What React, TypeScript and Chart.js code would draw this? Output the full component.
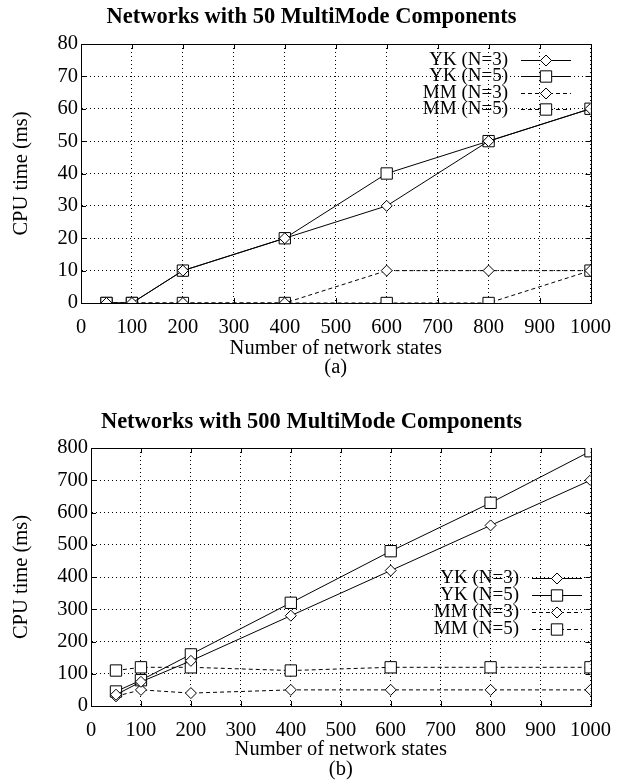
import React, { useEffect, useRef } from 'react';
import { Chart, registerables } from 'chart.js';

Chart.register(...registerables);

// ---------- data ----------
const networkStates = [50, 100, 200, 400, 600, 800, 1000];
const seriesLabels = ['YK (N=3)', 'YK (N=5)', 'MM (N=3)', 'MM (N=5)'];

// (a) 50 MultiMode components
const a_YK3 = [0, 0, 10, 20, 30, 50, 60];
const a_YK5 = [0, 0, 10, 20, 40, 50, 60];
const a_MM3 = [0, 0, 0, 0, 10, 10, 10];
const a_MM5 = [0, 0, 0, 0, 0, 0, 10];

// (b) 500 MultiMode components
const b_YK3 = [35, 75, 140, 280, 420, 560, 700];
const b_YK5 = [45, 80, 160, 320, 480, 630, 790];
const b_MM3 = [30, 50, 40, 50, 50, 50, 50];
const b_MM5 = [110, 120, 120, 110, 120, 120, 120];

const titleA = 'Networks with 50 MultiMode Components';
const titleB = 'Networks with 500 MultiMode Components';
const xTitle = 'Number of network states';
const yTitle = 'CPU time (ms)';

const FONT = "'Liberation Serif', 'Times New Roman', Times, serif";
const W = 623;

const markerStyles = ['rectRot', 'rect', 'rectRot', 'rect'];
const markerRadius = [5.5, 8, 5.5, 8];
const dashes = [[], [], [4, 3], [4, 3]];

function drawMarker(ctx: CanvasRenderingContext2D, style: string, x: number, y: number, r: number) {
  ctx.beginPath();
  if (style === 'rectRot') {
    ctx.moveTo(x, y - r);
    ctx.lineTo(x + r, y);
    ctx.lineTo(x, y + r);
    ctx.lineTo(x - r, y);
    ctx.closePath();
  } else {
    const s = r * Math.SQRT1_2;
    ctx.rect(x - s, y - s, 2 * s, 2 * s);
  }
  ctx.fillStyle = '#fff';
  ctx.fill();
  ctx.stroke();
}

const framePlugin = {
  id: 'gnuFrame',
  beforeDatasetsDraw(chart: any) {
    const { ctx, chartArea } = chart;
    const { left, right, top, bottom } = chartArea;
    ctx.save();
    ctx.strokeStyle = '#000';
    ctx.lineWidth = 1;
    ctx.setLineDash([]);
    ctx.strokeRect(Math.round(left) + 0.5, Math.round(top) + 0.5, Math.round(right - left), Math.round(bottom - top));
    const xs = chart.scales.x;
    const ys = chart.scales.y;
    const tl = 5;
    ctx.beginPath();
    xs.ticks.forEach((t: any) => {
      const px = Math.round(xs.getPixelForValue(t.value)) + 0.5;
      ctx.moveTo(px, bottom);
      ctx.lineTo(px, bottom - tl);
      ctx.moveTo(px, top);
      ctx.lineTo(px, top + tl);
    });
    ys.ticks.forEach((t: any) => {
      const py = Math.round(ys.getPixelForValue(t.value)) + 0.5;
      ctx.moveTo(left, py);
      ctx.lineTo(left + tl, py);
      ctx.moveTo(right, py);
      ctx.lineTo(right - tl, py);
    });
    ctx.stroke();
    ctx.restore();
  },
};

const legendPlugin = {
  id: 'gnuLegend',
  afterDraw(chart: any, _args: any, opts: any) {
    const { ctx } = chart;
    ctx.save();
    ctx.font = `${opts.fontSize}px ${FONT}`;
    ctx.textAlign = 'right';
    ctx.textBaseline = 'middle';
    chart.data.datasets.forEach((ds: any, i: number) => {
      const y = opts.y0 + i * opts.dy;
      ctx.fillStyle = '#000';
      ctx.fillText(ds.label, opts.textRight, y);
      ctx.strokeStyle = '#000';
      ctx.lineWidth = 1;
      ctx.setLineDash(ds.borderDash || []);
      ctx.beginPath();
      ctx.moveTo(opts.lineX1, Math.round(y) + 0.5);
      ctx.lineTo(opts.lineX2, Math.round(y) + 0.5);
      ctx.stroke();
      ctx.setLineDash([]);
      drawMarker(ctx, ds.pointStyle, (opts.lineX1 + opts.lineX2) / 2, Math.round(y) + 0.5, ds.pointRadius);
    });
    ctx.restore();
  },
};

type PanelProps = {
  title: string;
  sub: string;
  series: number[][];
  yMax: number;
  yStep: number;
  top: number;
  height: number;
  area: { left: number; right: number; top: number; bottom: number };
  titlePad: { top: number; bottom: number };
  xTitlePadBottom: number;
  legend: any;
};

function Panel(p: PanelProps) {
  const ref = useRef<HTMLCanvasElement | null>(null);
  useEffect(() => {
    if (!ref.current) return;
    const tickFont = { family: FONT, size: 20.5 };
    const side = W - p.area.right; // symmetric side padding keeps the title centred on the page
    const yTitleFont = { family: FONT, size: 20.5, lineHeight: 1.2 };
    const yTitleCenterX = 22;
    const yTitlePad = yTitleCenterX - side - (20.5 * 1.2) / 2;
    const chart = new Chart(ref.current, {
      type: 'line',
      data: {
        datasets: p.series.map((vals, i) => ({
          label: seriesLabels[i],
          data: networkStates.map((x, j) => ({ x, y: vals[j] })),
          borderColor: '#000',
          borderWidth: 1,
          borderDash: dashes[i],
          backgroundColor: '#fff',
          pointStyle: markerStyles[i] as any,
          pointRadius: markerRadius[i],
          pointBorderColor: '#000',
          pointBackgroundColor: '#fff',
          pointBorderWidth: 1,
          fill: false,
          tension: 0,
        })),
      },
      options: {
        animation: false,
        responsive: false,
        devicePixelRatio: 1,
        layout: { padding: { top: 0, left: side, right: side, bottom: 0 } },
        plugins: {
          legend: { display: false },
          tooltip: { enabled: false },
          title: {
            display: true,
            text: p.title,
            color: '#000',
            font: { family: FONT, size: 22.5, weight: 'bold', lineHeight: 1.2 },
            padding: p.titlePad,
          },
          gnuLegend: p.legend,
        } as any,
        scales: {
          x: {
            type: 'linear',
            min: 0,
            max: 1000,
            ticks: {
              stepSize: 100,
              color: '#000',
              font: tickFont,
              padding: 12,
              maxRotation: 0,
              callback: (v: any) => String(v),
            },
            grid: { color: '#000', lineWidth: 1, drawTicks: false },
            border: { color: '#000', dash: [1, 3] },
            title: {
              display: true,
              text: [xTitle, p.sub],
              color: '#000',
              font: { family: FONT, size: 20.5, lineHeight: 0.95 },
              padding: { top: 0, bottom: p.xTitlePadBottom },
            },
            afterFit: (s: any) => {
              s.height = p.height - p.area.bottom;
            },
          },
          y: {
            type: 'linear',
            min: 0,
            max: p.yMax,
            ticks: {
              stepSize: p.yStep,
              color: '#000',
              font: tickFont,
              padding: 3,
              callback: (v: any) => String(v),
            },
            grid: { color: '#000', lineWidth: 1, drawTicks: false },
            border: { color: '#000', dash: [1, 3] },
            title: {
              display: true,
              text: yTitle,
              color: '#000',
              font: yTitleFont,
              padding: { top: yTitlePad, bottom: 0 },
            },
            afterFit: (s: any) => {
              s.width = p.area.left - side;
            },
          },
        },
      } as any,
      plugins: [framePlugin, legendPlugin],
    });
    return () => chart.destroy();
  }, []);
  return (
    <canvas
      ref={ref}
      width={W}
      height={p.height}
      style={{ position: 'absolute', left: 0, top: p.top, width: W, height: p.height }}
    />
  );
}

export default function App() {
  return (
    <div style={{ position: 'absolute', left: 0, top: 0, width: W, height: 781, background: '#fff' }}>
      <Panel
        title={titleA}
        sub="(a)"
        series={[a_YK3, a_YK5, a_MM3, a_MM5]}
        yMax={80}
        yStep={10}
        top={0}
        height={390}
        area={{ left: 81, right: 592, top: 44, bottom: 303 }}
        titlePad={{ top: 3.5, bottom: 13.5 }}
        xTitlePadBottom={12.5}
        legend={{ fontSize: 19, textRight: 508, y0: 60, dy: 16.4, lineX1: 521, lineX2: 571 }}
      />
      <Panel
        title={titleB}
        sub="(b)"
        series={[b_YK3, b_YK5, b_MM3, b_MM5]}
        yMax={800}
        yStep={100}
        top={390}
        height={391}
        area={{ left: 91, right: 591, top: 58, bottom: 316 }}
        titlePad={{ top: 19, bottom: 12 }}
        xTitlePadBottom={1.75}
        legend={{ fontSize: 19, textRight: 519, y0: 188, dy: 17, lineX1: 532, lineX2: 582 }}
      />
    </div>
  );
}
